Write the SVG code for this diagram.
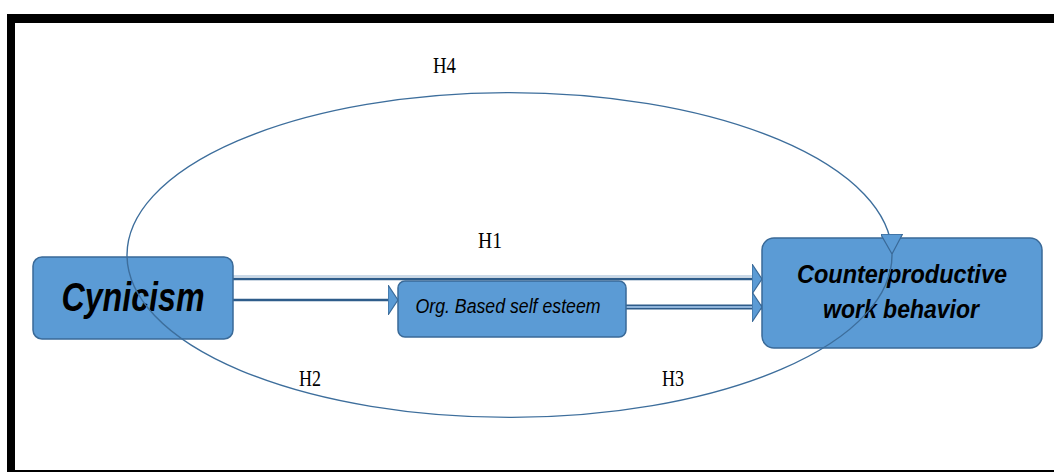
<svg xmlns="http://www.w3.org/2000/svg" width="1054" height="472" viewBox="0 0 1054 472">
<style>
.box{fill:#5b9bd5;stroke:#3a6a98;stroke-width:1.5}
.lbl{font-family:"Liberation Sans",Arial,sans-serif;font-weight:bold;font-style:italic;fill:#000}
.h{font-family:"Liberation Serif","Times New Roman",serif;font-size:23px;fill:#000}
.ln{fill:none;stroke:#2e5c8a;stroke-width:2.5}
.lt{fill:none;stroke:#b8cce0;stroke-width:1.5}
.arc{fill:none;stroke:#3d6e9c;stroke-width:1.4}
</style>
<defs>
<marker id="ah" viewBox="0 0 10 30" refX="10" refY="15" markerWidth="10" markerHeight="30" markerUnits="userSpaceOnUse" orient="auto">
<path d="M0,0 L10,15 L0,30 Z" fill="#5b9bd5" stroke="#3a6a98" stroke-width="1.2"/>
</marker>
<marker id="ah2" viewBox="0 0 20 22" refX="20" refY="11" markerWidth="20" markerHeight="22" markerUnits="userSpaceOnUse" orient="auto">
<path d="M0,0 L20,11 L0,22 Z" fill="#5b9bd5" stroke="#3a6a98" stroke-width="1.2"/>
</marker>
</defs>
<rect x="0" y="0" width="1054" height="472" fill="#fff"/>
<g id="frame">
<rect x="7" y="14" width="1047" height="9" fill="#000"/>
<rect x="7" y="14" width="8" height="458" fill="#000"/>
<rect x="7" y="470" width="1047" height="2" fill="#000"/>
</g>
<g id="connectors-under">
<line class="lt" x1="233" y1="276" x2="752" y2="276"/>
<line class="ln" x1="233" y1="279" x2="762" y2="279" marker-end="url(#ah)"/>
<line class="ln" x1="233" y1="300" x2="398" y2="300" marker-end="url(#ah)"/>
<line x1="626" y1="307" x2="762" y2="307" stroke="#2e5c8a" stroke-width="5" marker-end="url(#ah)"/>
<line x1="626" y1="307" x2="752" y2="307" stroke="#8fb4da" stroke-width="2"/>
</g>
<g id="node-cynicism">
<rect class="box" x="33" y="257" width="200" height="82" rx="9"/>
<text class="lbl" x="133" y="311" font-size="41" text-anchor="middle" textLength="143" lengthAdjust="spacingAndGlyphs">Cynicism</text>
</g>
<g id="node-org">
<rect class="box" x="398" y="281" width="228" height="56" rx="7"/>
<text x="508" y="313" font-family="'Liberation Sans',Arial,sans-serif" font-style="italic" font-size="20" text-anchor="middle" textLength="185" lengthAdjust="spacingAndGlyphs">Org. Based self esteem</text>
</g>
<g id="node-cwb">
<rect class="box" x="762" y="238" width="280" height="110" rx="12"/>
<text class="lbl" x="902" y="283" font-size="26" text-anchor="middle" textLength="210" lengthAdjust="spacingAndGlyphs">Counterproductive</text>
<text class="lbl" x="901" y="318" font-size="26" text-anchor="middle" textLength="156" lengthAdjust="spacingAndGlyphs">work behavior</text>
</g>
<g id="connectors">
<path class="arc" d="M127,256 A382.5,162.5 0 0 1 892,254" marker-end="url(#ah2)"/>
<path class="arc" d="M127,256 A382.5,162.5 0 0 0 892,254"/>
</g>
<g id="labels">
<text class="h" x="433" y="73" textLength="23" lengthAdjust="spacingAndGlyphs">H4</text>
<text class="h" x="478" y="248" textLength="24" lengthAdjust="spacingAndGlyphs">H1</text>
<text class="h" x="299" y="386" textLength="22" lengthAdjust="spacingAndGlyphs">H2</text>
<text class="h" x="662" y="386" textLength="22" lengthAdjust="spacingAndGlyphs">H3</text>
</g>
</svg>
